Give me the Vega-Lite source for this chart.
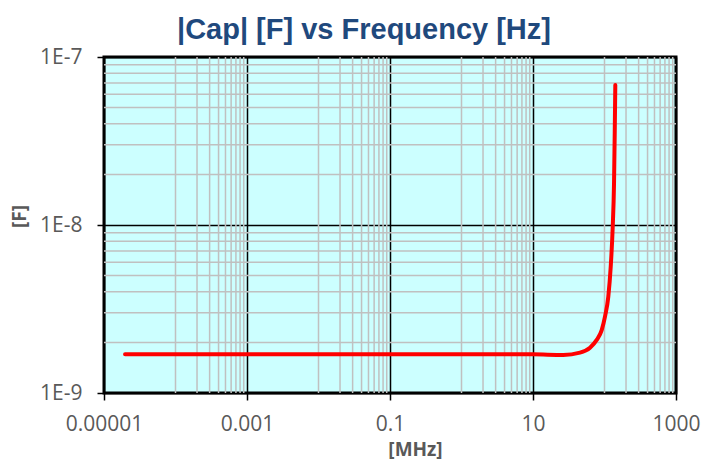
{
  "$schema": "https://vega.github.io/schema/vega-lite/v6.json",
  "width": 572,
  "height": 336,
  "autosize": {"type": "none"},
  "padding": {"left": 104, "top": 57, "right": 40, "bottom": 75},
  "background": "white",
  "title": {
    "text": "|Cap| [F] vs Frequency [Hz]",
    "font": "Liberation Sans",
    "fontSize": 29,
    "fontWeight": "bold",
    "color": "#1F497D",
    "anchor": "middle",
    "frame": "group",
    "baseline": "alphabetic",
    "dx": -26,
    "dy": 30,
    "offset": 8
  },
  "config": {
    "view": {"fill": "#CCFFFF", "stroke": "black", "strokeWidth": 3},
    "axis": {
      "domain": false,
      "grid": true,
      "gridColor": "black",
      "gridWidth": 1.5,
      "ticks": true,
      "tickColor": "black",
      "tickSize": 7,
      "tickWidth": 1.5,
      "labelFlush": false,
      "labelOverlap": false,
      "labelBound": false,
      "labelFont": "Open Sans",
      "labelFontSize": 21,
      "labelColor": "#595959",
      "titleFont": "Open Sans",
      "titleFontSize": 19,
      "titleFontWeight": "bold",
      "titleColor": "#595959"
    }
  },
  "datasets": {
    "curve": [
      {"f": 0.0000197, "c": 1.70e-9},
      {"f": 0.0001, "c": 1.70e-9},
      {"f": 0.001, "c": 1.70e-9},
      {"f": 0.01, "c": 1.70e-9},
      {"f": 0.1, "c": 1.70e-9},
      {"f": 1, "c": 1.70e-9},
      {"f": 1.82, "c": 1.70e-9},
      {"f": 10, "c": 1.698e-9},
      {"f": 26.5, "c": 1.685e-9},
      {"f": 45.4, "c": 1.738e-9},
      {"f": 62.7, "c": 1.86e-9},
      {"f": 77.8, "c": 2.07e-9},
      {"f": 91.4, "c": 2.37e-9},
      {"f": 101.6, "c": 2.85e-9},
      {"f": 113, "c": 3.74e-9},
      {"f": 122.2, "c": 5.65e-9},
      {"f": 130.3, "c": 9.77e-9},
      {"f": 135.9, "c": 1.77e-8},
      {"f": 139, "c": 3.51e-8},
      {"f": 141.6, "c": 6.81e-8}
    ],
    "xminor": [
      {"f": 0.0001}, {"f": 0.0002}, {"f": 0.0003}, {"f": 0.0004}, {"f": 0.0005}, {"f": 0.0006}, {"f": 0.0007}, {"f": 0.0008}, {"f": 0.0009},
      {"f": 0.01}, {"f": 0.02}, {"f": 0.03}, {"f": 0.04}, {"f": 0.05}, {"f": 0.06}, {"f": 0.07}, {"f": 0.08}, {"f": 0.09},
      {"f": 1}, {"f": 2}, {"f": 3}, {"f": 4}, {"f": 5}, {"f": 6}, {"f": 7}, {"f": 8}, {"f": 9},
      {"f": 100}, {"f": 200}, {"f": 300}, {"f": 400}, {"f": 500}, {"f": 600}, {"f": 700}, {"f": 800}, {"f": 900}
    ],
    "yminor": [
      {"c": 2e-9}, {"c": 3e-9}, {"c": 4e-9}, {"c": 5e-9}, {"c": 6e-9}, {"c": 7e-9}, {"c": 8e-9}, {"c": 9e-9},
      {"c": 2e-8}, {"c": 3e-8}, {"c": 4e-8}, {"c": 5e-8}, {"c": 6e-8}, {"c": 7e-8}, {"c": 8e-8}, {"c": 9e-8}
    ]
  },
  "layer": [
    {
      "data": {"name": "xminor"},
      "mark": {"type": "rule", "color": "#C0C0C0", "strokeWidth": 1.5},
      "encoding": {
        "x": {
          "field": "f", "type": "quantitative",
          "scale": {"type": "log", "domain": [0.00001, 1000], "nice": false},
          "axis": {"values": [0.00001, 0.001, 0.1, 10, 1000], "format": "~g", "labelPadding": 13, "title": "[MHz]", "titleX": 311, "titleY": 56, "titleBaseline": "middle"}
        }
      }
    },
    {
      "data": {"name": "yminor"},
      "mark": {"type": "rule", "color": "#C0C0C0", "strokeWidth": 1.5},
      "encoding": {
        "y": {
          "field": "c", "type": "quantitative",
          "scale": {"type": "log", "domain": [1e-9, 1e-7], "nice": false},
          "axis": {"values": [1e-9, 1e-8, 1e-7], "labelExpr": "'1E' + round(log(datum.value)/LN10)", "labelPadding": 15, "title": "[F]", "titleX": -85, "titleY": 159, "titleAngle": 270, "titleBaseline": "middle", "titleAlign": "center"}
        }
      }
    },
    {
      "data": {"name": "curve"},
      "mark": {"type": "line", "color": "#FF0000", "strokeWidth": 4, "interpolate": "monotone", "strokeCap": "round"},
      "encoding": {
        "x": {
          "field": "f", "type": "quantitative",
          "scale": {"type": "log", "domain": [0.00001, 1000], "nice": false},
          "axis": {"values": [0.00001, 0.001, 0.1, 10, 1000], "format": "~g", "labelPadding": 13, "title": "[MHz]", "titleX": 311, "titleY": 56, "titleBaseline": "middle"}
        },
        "y": {
          "field": "c", "type": "quantitative",
          "scale": {"type": "log", "domain": [1e-9, 1e-7], "nice": false},
          "axis": {"values": [1e-9, 1e-8, 1e-7], "labelExpr": "'1E' + round(log(datum.value)/LN10)", "labelPadding": 15, "title": "[F]", "titleX": -85, "titleY": 159, "titleAngle": 270, "titleBaseline": "middle", "titleAlign": "center"}
        }
      }
    }
  ]
}
